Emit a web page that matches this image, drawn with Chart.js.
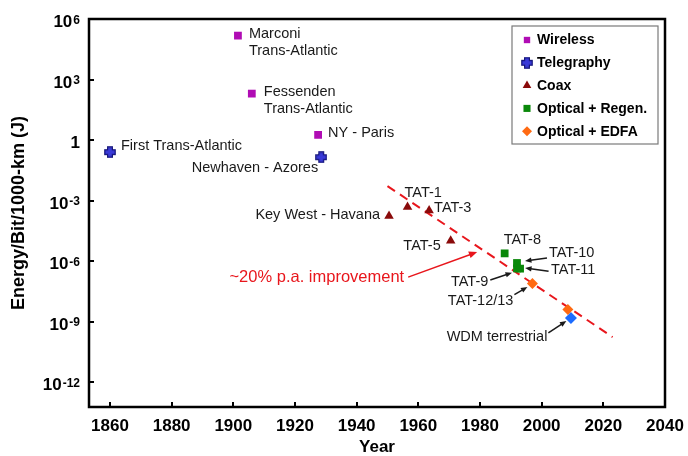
<!DOCTYPE html>
<html>
<head>
<meta charset="utf-8">
<script src="https://cdn.jsdelivr.net/npm/chart.js@4"></script>
<style>
  html, body { margin: 0; padding: 0; background: #fff; }
  #wrap { width: 688px; height: 456px; }
</style>
</head>
<body>
<div id="wrap"><canvas id="chart-01"></canvas></div>
<script>
// values
const wirelessYears = [1901.5, 1906, 1927.5];
const wirelessEnergy = [1.5e5, 200, 1.8];
const telegraphyYears = [1860, 1928.5];
const telegraphyEnergy = [0.25, 0.14];
const coaxYears = [1950.5, 1956.5, 1963.5, 1970.5];
const coaxEnergy = [1.7e-4, 4.8e-4, 3.2e-4, 1e-5];
const regenYears = [1988, 1992, 1992, 1993];
const regenEnergy = [2.4e-6, 4.3e-7, 8e-7, 4.2e-7];
const edfaYears = [1997, 2008.5];
const edfaEnergy = [7.6e-8, 4e-9];
const wdmYears = [2009.5];
const wdmEnergy = [1.5e-9];
const trendYears = [1950, 2023];
const trendEnergy = [5.2e-3, 1.7e-10];

const yearTicks = [1860, 1880, 1900, 1920, 1940, 1960, 1980, 2000, 2020, 2040];
const energyTicks = [1e-12, 1e-9, 1e-6, 1e-3, 1, 1e3, 1e6];
// base^exponent, exponent drawn as superscript
const energyTickLabels = ['10^-12', '10^-9', '10^-6', '10^-3', '1', '10^3', '10^6'];

const FONT = 'Arial, "Liberation Sans", sans-serif';

function pts(xs, ys) {
    return xs.map((x, i) => ({ x: x, y: ys[i] }));
}

// filled plus marker for telegraphy
function plusMarker(size) {
    const c = document.createElement('canvas');
    c.width = size; c.height = size;
    const g = c.getContext('2d');
    const a = size * 0.3, b = size * 0.7, e = 0.8, f = size - 0.8;
    g.beginPath();
    g.moveTo(a, e); g.lineTo(b, e); g.lineTo(b, a); g.lineTo(f, a); g.lineTo(f, b);
    g.lineTo(b, b); g.lineTo(b, f); g.lineTo(a, f); g.lineTo(a, b); g.lineTo(e, b);
    g.lineTo(e, a); g.lineTo(a, a); g.closePath();
    g.fillStyle = '#3a3ad8';
    g.fill();
    g.strokeStyle = '#15157a';
    g.lineWidth = 1.2;
    g.stroke();
    return c;
}
const plusMark = plusMarker(12);

// labels hang off a dataset point: [dataset, index], offsets in px
const notes = [
    { set: 0, i: 0, lines: ['Marconi', 'Trans-Atlantic'], dx: 11, dy: -2 },
    { set: 0, i: 1, lines: ['Fessenden', 'Trans-Atlantic'], dx: 12, dy: -2 },
    { set: 0, i: 2, lines: ['NY - Paris'], dx: 10, dy: -2 },
    { set: 1, i: 0, lines: ['First Trans-Atlantic'], dx: 11, dy: -6 },
    { set: 1, i: 1, lines: ['Newhaven - Azores'], dx: -3, dy: 11, align: 'right' },
    { set: 2, i: 0, lines: ['Key West - Havana'], dx: -9, dy: -1, align: 'right' },
    { set: 2, i: 1, lines: ['TAT-1'], dx: -3, dy: -14 },
    { set: 2, i: 2, lines: ['TAT-3'], dx: 5, dy: -3 },
    { set: 2, i: 3, lines: ['TAT-5'], dx: -10, dy: 5, align: 'right' },
    { set: 3, i: 0, lines: ['TAT-8'], dx: -1, dy: -13 },
    { set: 3, i: 2, lines: ['TAT-10'], dx: 32, dy: -10, arrow: [30, -5, 8, -2] },
    { set: 3, i: 3, lines: ['TAT-11'], dx: 31, dy: 1, arrow: [28.5, 2.7, 5, -0.7] },
    { set: 3, i: 1, lines: ['TAT-9'], dx: -28.7, dy: 13.6, align: 'right', arrow: [-26.7, 11.6, -5, 4.3] },
    { set: 4, i: 0, lines: ['TAT-12/13'], dx: -19, dy: 17.4, align: 'right', arrow: [-18, 11, -5, 3.4] },
    { set: 5, i: 0, lines: ['WDM terrestrial'], dx: -23.6, dy: 19.3, align: 'right', arrow: [-22.6, 15, -4.6, 3] },
    { set: 6, i: 0, lines: ['~20% p.a. improvement'], dx: 16.7, dy: 91, align: 'right', color: '#e8161c',
      size: 16.5, arrow: [20.7, 91, 89.7, 65.9], head: 9 }
];

const legendSets = [0, 1, 2, 3, 4];

function arrow(ctx, x1, y1, x2, y2, color, head) {
    const ang = Math.atan2(y2 - y1, x2 - x1);
    ctx.save();
    ctx.strokeStyle = color;
    ctx.fillStyle = color;
    ctx.lineWidth = 1.5;
    ctx.beginPath();
    ctx.moveTo(x1, y1);
    ctx.lineTo(x2 - Math.cos(ang) * head * 0.8, y2 - Math.sin(ang) * head * 0.8);
    ctx.stroke();
    ctx.beginPath();
    ctx.moveTo(x2, y2);
    ctx.lineTo(x2 - head * Math.cos(ang - 0.4), y2 - head * Math.sin(ang - 0.4));
    ctx.lineTo(x2 - head * Math.cos(ang + 0.4), y2 - head * Math.sin(ang + 0.4));
    ctx.closePath();
    ctx.fill();
    ctx.restore();
}

const decorations = {
    id: 'decorations',
    afterDatasetsDraw(chart) {
        const ctx = chart.ctx;
        const area = chart.chartArea;
        const xs = chart.scales.x, ys = chart.scales.y;

        // inward tick marks
        ctx.save();
        ctx.strokeStyle = '#000';
        ctx.lineWidth = 2;
        ctx.beginPath();
        yearTicks.forEach(v => {
            const px = Math.round(xs.getPixelForValue(v));
            ctx.moveTo(px, area.bottom);
            ctx.lineTo(px, area.bottom - 5);
        });
        energyTicks.forEach(v => {
            const py = Math.round(ys.getPixelForValue(v));
            ctx.moveTo(area.left, py);
            ctx.lineTo(area.left + 5, py);
        });
        ctx.stroke();
        // frame
        ctx.lineWidth = 2.5;
        ctx.strokeRect(area.left, area.top, area.right - area.left, area.bottom - area.top);

        // y tick labels with real superscripts
        ctx.fillStyle = '#000';
        const right = area.left - 9;
        energyTicks.forEach((v, k) => {
            const py = ys.getPixelForValue(v);
            const parts = energyTickLabels[k].split('^');
            ctx.font = 'bold 17px ' + FONT;
            const bw = ctx.measureText(parts[0]).width;
            let ew = 0;
            if (parts[1]) {
                ctx.font = 'bold 12px ' + FONT;
                ew = ctx.measureText(parts[1]).width + 1;
            }
            ctx.font = 'bold 17px ' + FONT;
            ctx.textAlign = 'left';
            ctx.textBaseline = 'alphabetic';
            ctx.fillText(parts[0], right - ew - bw, py + 8);
            if (parts[1]) {
                ctx.font = 'bold 12px ' + FONT;
                ctx.fillText(parts[1], right - ew + 1, py + 4.5);
            }
        });
        ctx.restore();

        // text labels and arrows
        notes.forEach(n => {
            const el = chart.getDatasetMeta(n.set).data[n.i];
            const color = n.color || '#1a1a1a';
            ctx.save();
            ctx.font = (n.size || 14.5) + 'px ' + FONT;
            ctx.fillStyle = color;
            ctx.textAlign = n.align || 'left';
            ctx.textBaseline = 'middle';
            n.lines.forEach((t, k) => ctx.fillText(t, el.x + n.dx, el.y + n.dy + k * 17.5));
            ctx.restore();
            if (n.arrow) {
                const a = n.arrow;
                arrow(ctx, el.x + a[0], el.y + a[1], el.x + a[2], el.y + a[3], color, n.head || 7);
            }
        });

        // legend box in the upper right of the plot
        const bx = area.right - 153, by = area.top + 7, bw = 146, bh = 118;
        ctx.save();
        ctx.fillStyle = '#fff';
        ctx.fillRect(bx, by, bw, bh);
        ctx.strokeStyle = '#7a7a7a';
        ctx.lineWidth = 1.2;
        ctx.strokeRect(bx, by, bw, bh);
        ctx.font = 'bold 14px ' + FONT;
        ctx.textBaseline = 'middle';
        legendSets.forEach((s, k) => {
            const ds = chart.data.datasets[s];
            const cy = by + 14 + k * 22.8;
            ctx.fillStyle = ds.backgroundColor;
            ctx.strokeStyle = ds.backgroundColor;
            Chart.helpers.drawPoint(ctx, {
                pointStyle: ds.pointStyle, radius: ds.legendRadius, borderWidth: 0, rotation: 0
            }, bx + 15, cy);
            ctx.fillStyle = '#000';
            ctx.fillText(ds.label, bx + 25, cy + 0.5);
        });
        ctx.restore();
    }
};

const ctx = document.getElementById('chart-01').getContext('2d');

const data = {
    datasets: [{
        label: 'Wireless',
        data: pts(wirelessYears, wirelessEnergy),
        pointStyle: 'rect',
        pointRadius: 5.5,
        legendRadius: 4.5,
        backgroundColor: '#b00cb4',
        borderWidth: 0
    },
    {
        label: 'Telegraphy',
        data: pts(telegraphyYears, telegraphyEnergy),
        pointStyle: plusMark,
        pointRadius: 6,
        legendRadius: 6,
        backgroundColor: '#3a3ad8',
        borderWidth: 0
    },
    {
        label: 'Coax',
        data: pts(coaxYears, coaxEnergy),
        pointStyle: 'triangle',
        pointRadius: 5.5,
        legendRadius: 5,
        backgroundColor: '#8a0a0a',
        borderWidth: 0
    },
    {
        label: 'Optical + Regen.',
        data: pts(regenYears, regenEnergy),
        pointStyle: 'rect',
        pointRadius: 5.5,
        legendRadius: 5,
        backgroundColor: '#0a880a',
        borderWidth: 0
    },
    {
        label: 'Optical + EDFA',
        data: pts(edfaYears, edfaEnergy),
        pointStyle: 'rectRot',
        pointRadius: 5.5,
        legendRadius: 5,
        backgroundColor: '#ff6a12',
        borderWidth: 0
    },
    {
        label: 'WDM terrestrial',
        data: pts(wdmYears, wdmEnergy),
        pointStyle: 'rectRot',
        pointRadius: 6,
        backgroundColor: '#1c6cff',
        borderWidth: 0
    },
    {
        label: 'trend',
        data: pts(trendYears, trendEnergy),
        showLine: true,
        pointRadius: 0,
        borderColor: '#e8161c',
        borderWidth: 2,
        borderDash: [9, 6],
        fill: false
    }
    ]
};

const myChart = new Chart(ctx, {
    type: 'scatter',
    data: data,
    options: {
        responsive: true,
        maintainAspectRatio: false,
        animation: false,
        layout: { padding: { top: 19, right: 23, left: 0, bottom: 0 } },
        plugins: {
            legend: { display: false },
            tooltip: { enabled: false }
        },
        scales: {
            x: {
                type: 'linear',
                min: 1853.2,
                max: 2040,
                grid: { display: false },
                border: { display: false },
                afterBuildTicks: s => { s.ticks = yearTicks.map(v => ({ value: v })); },
                afterFit: s => { s.height = 49; },
                ticks: {
                    color: '#000',
                    padding: 1,
                    maxRotation: 0,
                    autoSkip: false,
                    font: { family: FONT, size: 17, weight: 'bold' },
                    callback: v => String(v)
                },
                title: {
                    display: true,
                    text: 'Year',
                    color: '#000',
                    padding: 0,
                    font: { family: FONT, size: 17, weight: 'bold', lineHeight: 1 }
                }
            },
            y: {
                type: 'logarithmic',
                min: 5.8e-14,
                max: 1e6,
                grid: { display: false },
                border: { display: false },
                afterBuildTicks: s => { s.ticks = energyTicks.map(v => ({ value: v })); },
                afterFit: s => { s.width = 89; },
                ticks: { display: false },
                title: {
                    display: true,
                    text: 'Energy/Bit/1000-km (J)',
                    color: '#000',
                    padding: { top: 10 },
                    font: { family: FONT, size: 18, weight: 'bold', lineHeight: 1 }
                }
            }
        }
    },
    plugins: [decorations]
});
</script>
</body>
</html>
